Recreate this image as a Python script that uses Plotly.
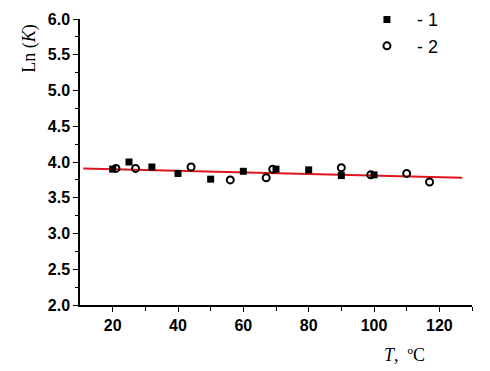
import plotly.graph_objects as go

# Series 1 (filled squares)
t1 = [20, 25, 32, 40, 50, 60, 70, 80, 90, 100]
lnk1 = [3.90, 4.00, 3.93, 3.84, 3.76, 3.87, 3.90, 3.89, 3.81, 3.82]
# Series 2 (open circles)
t2 = [21, 27, 44, 56, 67, 69, 90, 99, 110, 117]
lnk2 = [3.91, 3.91, 3.93, 3.75, 3.78, 3.90, 3.92, 3.82, 3.84, 3.72]
# Linear fit line
fit_t = [11, 127]
fit_lnk = [3.91, 3.78]

sans = "Arial, Liberation Sans, sans-serif"
serif = "Times New Roman, Liberation Serif, serif"

fig = go.Figure()
fig.add_trace(go.Scatter(x=fit_t, y=fit_lnk, mode="lines",
                         line=dict(color="#e0141e", width=2), showlegend=False))
fig.add_trace(go.Scatter(x=t1, y=lnk1, mode="markers", name="&nbsp;&nbsp;- 1",
                         marker=dict(symbol="square", size=7, color="black")))
fig.add_trace(go.Scatter(x=t2, y=lnk2, mode="markers", name="&nbsp;&nbsp;- 2",
                         marker=dict(symbol="circle-open", size=7, color="black",
                                     line=dict(width=2, color="black"))))

fig.update_layout(
    width=482, height=363,
    margin=dict(l=72, r=18, t=11, b=66, autoexpand=False),
    paper_bgcolor="white", plot_bgcolor="white",
    font=dict(family=sans, size=16, color="black"),
    legend=dict(x=0.732, y=1.062, xanchor="left", yanchor="top",
                bgcolor="rgba(0,0,0,0)", font=dict(size=18, family=sans),
                itemsizing="trace"),
    xaxis=dict(range=[10, 130], tickvals=[20, 40, 60, 80, 100, 120],
               showgrid=False, zeroline=False, showline=True, linecolor="black",
               linewidth=1.5, ticks="outside", ticklen=5, tickwidth=1.2,
               tickcolor="black",
               minor=dict(tickvals=[30, 50, 70, 90, 110, 130], ticks="outside",
                          ticklen=4, tickcolor="black", tickwidth=1.2),
               tickfont=dict(family=sans, size=16, weight="bold")),
    yaxis=dict(range=[2.0, 6.0], tickvals=[2.0, 2.5, 3.0, 3.5, 4.0, 4.5, 5.0, 5.5, 6.0],
               tickformat=".1f",
               showgrid=False, zeroline=False, showline=True, linecolor="black",
               linewidth=1.5, ticks="outside", ticklen=5, tickwidth=1.2,
               tickcolor="black",
               minor=dict(dtick=0.25, ticks="outside", ticklen=3, tickcolor="black",
                          tickwidth=1.2),
               tickfont=dict(family=sans, size=16, weight="bold")),
)
fig.add_annotation(text="Ln (<i>K</i>)", xref="paper", yref="paper",
                   x=-0.128, y=0.899, xanchor="center", yanchor="middle",
                   textangle=-90, showarrow=False,
                   font=dict(family=serif, size=18, color="black"))
fig.add_annotation(text="<i>T</i>,  ºC", xref="paper", yref="paper",
                   x=0.829, y=-0.175, xanchor="center", yanchor="middle",
                   showarrow=False,
                   font=dict(family=serif, size=18, color="black"))

fig.write_html("out.html")
